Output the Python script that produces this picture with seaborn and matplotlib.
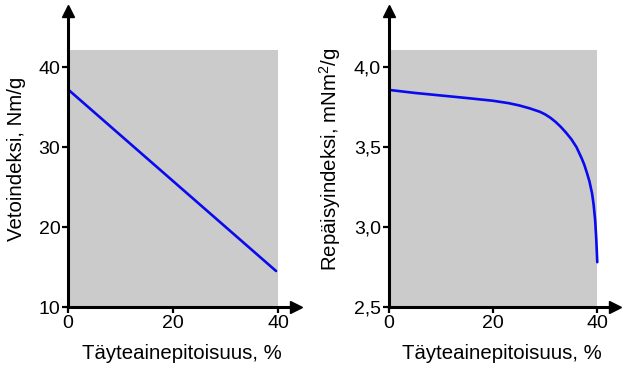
import numpy as np
import pandas as pd
import matplotlib
matplotlib.use("Agg")
import matplotlib.pyplot as plt
import seaborn as sns

# Vetoindeksi (tensile index) vs filler content
tensile_x = [0, 39.6]
tensile_y = [37.2, 14.5]

# Repäisyindeksi (tear index) vs filler content
tear_x = [0, 5, 10, 15, 20, 23, 25, 27, 29, 30, 31, 32, 33, 34, 35, 36,
          37, 37.5, 38, 38.5, 39, 39.3, 39.6, 39.8, 40.0]
tear_y = [3.857, 3.838, 3.822, 3.806, 3.789, 3.774, 3.760, 3.742, 3.72,
          3.704, 3.683, 3.657, 3.626, 3.590, 3.55, 3.50, 3.43, 3.39, 3.34,
          3.285, 3.21, 3.14, 3.04, 2.93, 2.78]

x_ticks = [0, 20, 40]
tensile_ticks = [10, 20, 30, 40]
tear_ticks = [2.5, 3.0, 3.5, 4.0]
tear_ticklabels = ["2,5", "3,0", "3,5", "4,0"]

xlabel = "Täyteainepitoisuus, %"
tensile_label = "Vetoindeksi, Nm/g"
tear_label = r"Repäisyindeksi, mNm$^\mathregular{2}$/g"

sns.set_style("white")
plt.rcParams["font.family"] = ["Liberation Sans", "DejaVu Sans"]
plt.rcParams["mathtext.fontset"] = "custom"
plt.rcParams["mathtext.rm"] = "Liberation Sans"
plt.rcParams["text.color"] = "black"
plt.rcParams["axes.labelcolor"] = "black"

fig = plt.figure(figsize=(6.32, 3.86), dpi=100)
W, H = 632, 386
ax1 = fig.add_axes([68 / W, 79 / H, 228 / W, 296 / H])
ax2 = fig.add_axes([388.7 / W, 79 / H, 226.3 / W, 296 / H])

gray = "#cbcbcb"
blue = "#0a0aee"


def style_axes(ax, ylim, gray_top, yticks, yticklabels):
    ax.set_xlim(0, 43.4)
    ax.set_ylim(*ylim)
    ax.fill_between([0, 40], ylim[0], gray_top, color=gray, lw=0, zorder=0)
    for s in ["top", "right"]:
        ax.spines[s].set_visible(False)
    for s in ["left", "bottom"]:
        ax.spines[s].set_linewidth(2.2)
        ax.spines[s].set_color("black")
    ax.plot(1, 0, ">k", ms=8, transform=ax.transAxes, clip_on=False)
    ax.plot(0, 1, "^k", ms=8, transform=ax.transAxes, clip_on=False)
    ax.set_xticks(x_ticks)
    ax.set_xticklabels([str(t) for t in x_ticks])
    ax.set_yticks(yticks)
    ax.set_yticklabels(yticklabels)
    ax.tick_params(axis="both", direction="out", length=4.5, width=1.6,
                   labelsize=14, pad=1, colors="black", bottom=True, left=True)
    ax.set_facecolor("white")


df1 = pd.DataFrame({"x": tensile_x, "y": tensile_y})
df2 = pd.DataFrame({"x": tear_x, "y": tear_y})

style_axes(ax1, (10, 47.0), 42.1, tensile_ticks,
           [str(t) for t in tensile_ticks])
sns.lineplot(data=df1, x="x", y="y", ax=ax1, color=blue, lw=1.9, sort=False)

style_axes(ax2, (2.5, 4.35), 4.106, tear_ticks, tear_ticklabels)
sns.lineplot(data=df2, x="x", y="y", ax=ax2, color=blue, lw=1.9, sort=False)

for ax in (ax1, ax2):
    ax.set_xlabel(xlabel, fontsize=14.7, labelpad=9, color="black")

ax1.set_ylabel(tensile_label, fontsize=14.7, labelpad=9, color="black")
ax2.set_ylabel(tear_label, fontsize=14.7, labelpad=8, color="black")

fig.savefig("out.png", dpi=100)
